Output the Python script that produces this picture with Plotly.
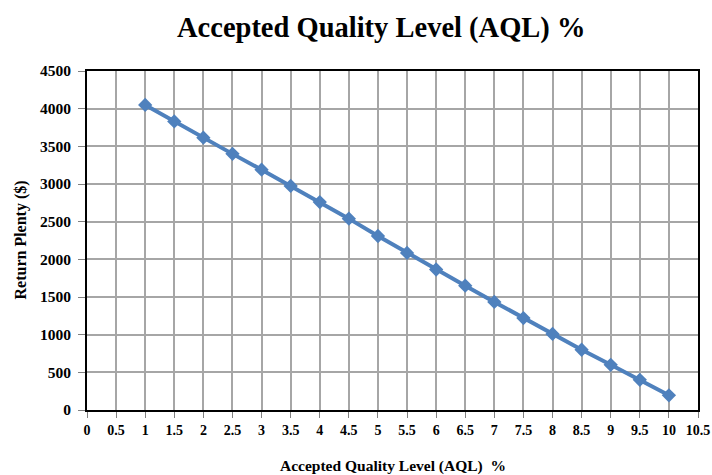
import plotly.graph_objects as go

aql = [1, 1.5, 2, 2.5, 3, 3.5, 4, 4.5, 5, 5.5, 6, 6.5, 7, 7.5, 8, 8.5, 9, 9.5, 10]
penalty = [4050, 3830, 3615, 3400, 3190, 2975, 2760, 2540, 2310, 2085, 1865, 1650, 1435, 1220, 1010, 800, 600, 400, 195]

x_ticks = [0, 0.5, 1, 1.5, 2, 2.5, 3, 3.5, 4, 4.5, 5, 5.5, 6, 6.5, 7, 7.5, 8, 8.5, 9, 9.5, 10, 10.5]
x_labels = ["0", "0.5", "1", "1.5", "2", "2.5", "3", "3.5", "4", "4.5", "5", "5.5", "6", "6.5", "7", "7.5", "8", "8.5", "9", "9.5", "10", "10.5"]
y_ticks = [0, 500, 1000, 1500, 2000, 2500, 3000, 3500, 4000, 4500]

title_text = "Accepted Quality Level (AQL) %"
x_title = "Accepted Quality Level (AQL)  %"
y_title = "Return Plenty ($)"

font = "Liberation Serif"

fig = go.Figure()
fig.add_trace(go.Scatter(
    x=aql, y=penalty, mode="lines+markers",
    line=dict(color="#4F81BD", width=4),
    marker=dict(symbol="diamond", size=11, color="#4F81BD"),
    showlegend=False, cliponaxis=False,
))

fig.update_layout(
    width=712, height=475,
    margin=dict(l=87, r=14, t=71, b=65),
    paper_bgcolor="white", plot_bgcolor="white",
    font=dict(family=font, color="black"),
    annotations=[
        dict(text="<b>%s</b>" % title_text, xref="paper", yref="paper", x=0.481, y=1,
             yshift=43, xanchor="center", yanchor="middle", showarrow=False,
             font=dict(family=font, size=28.5, color="black")),
        dict(text="<b>%s</b>" % x_title, xref="paper", yref="paper", x=0.5, y=0,
             yshift=-56, xanchor="center", yanchor="middle", showarrow=False,
             font=dict(family=font, size=15.5, color="black")),
        dict(text="<b>%s</b>" % y_title, xref="paper", yref="paper", x=0, y=0.5,
             xshift=-67, xanchor="center", yanchor="middle", showarrow=False, textangle=-90,
             font=dict(family=font, size=16, color="black")),
    ],
)
fig.update_xaxes(
    range=[0, 10.5], tickvals=x_ticks, ticktext=["<b>%s</b>" % t for t in x_labels],
    tickfont=dict(family=font, size=14, color="black"),
    showgrid=True, gridcolor="#A6A6A6", gridwidth=1.5,
    showline=True, linecolor="black", linewidth=2, mirror=True,
    ticks="outside", ticklen=6, tickcolor="#808080", tickwidth=1,
    zeroline=False, automargin=False,
)
fig.update_yaxes(
    range=[0, 4500], tickvals=y_ticks, ticktext=["<b>%d</b>" % v for v in y_ticks],
    tickfont=dict(family=font, size=15.5, color="black"),
    showgrid=True, gridcolor="#A6A6A6", gridwidth=1.5,
    showline=True, linecolor="black", linewidth=2, mirror=True,
    ticks="outside", ticklen=7, tickcolor="#808080", tickwidth=1,
    ticklabelstandoff=4,
    zeroline=False, automargin=False,
)

# remove the default page margin so the 712x475 figure fills the window exactly
fig.write_html(
    "out.html",
    config={"displayModeBar": False},
    post_script="document.body.style.margin='0';document.body.style.overflow='hidden';",
)
